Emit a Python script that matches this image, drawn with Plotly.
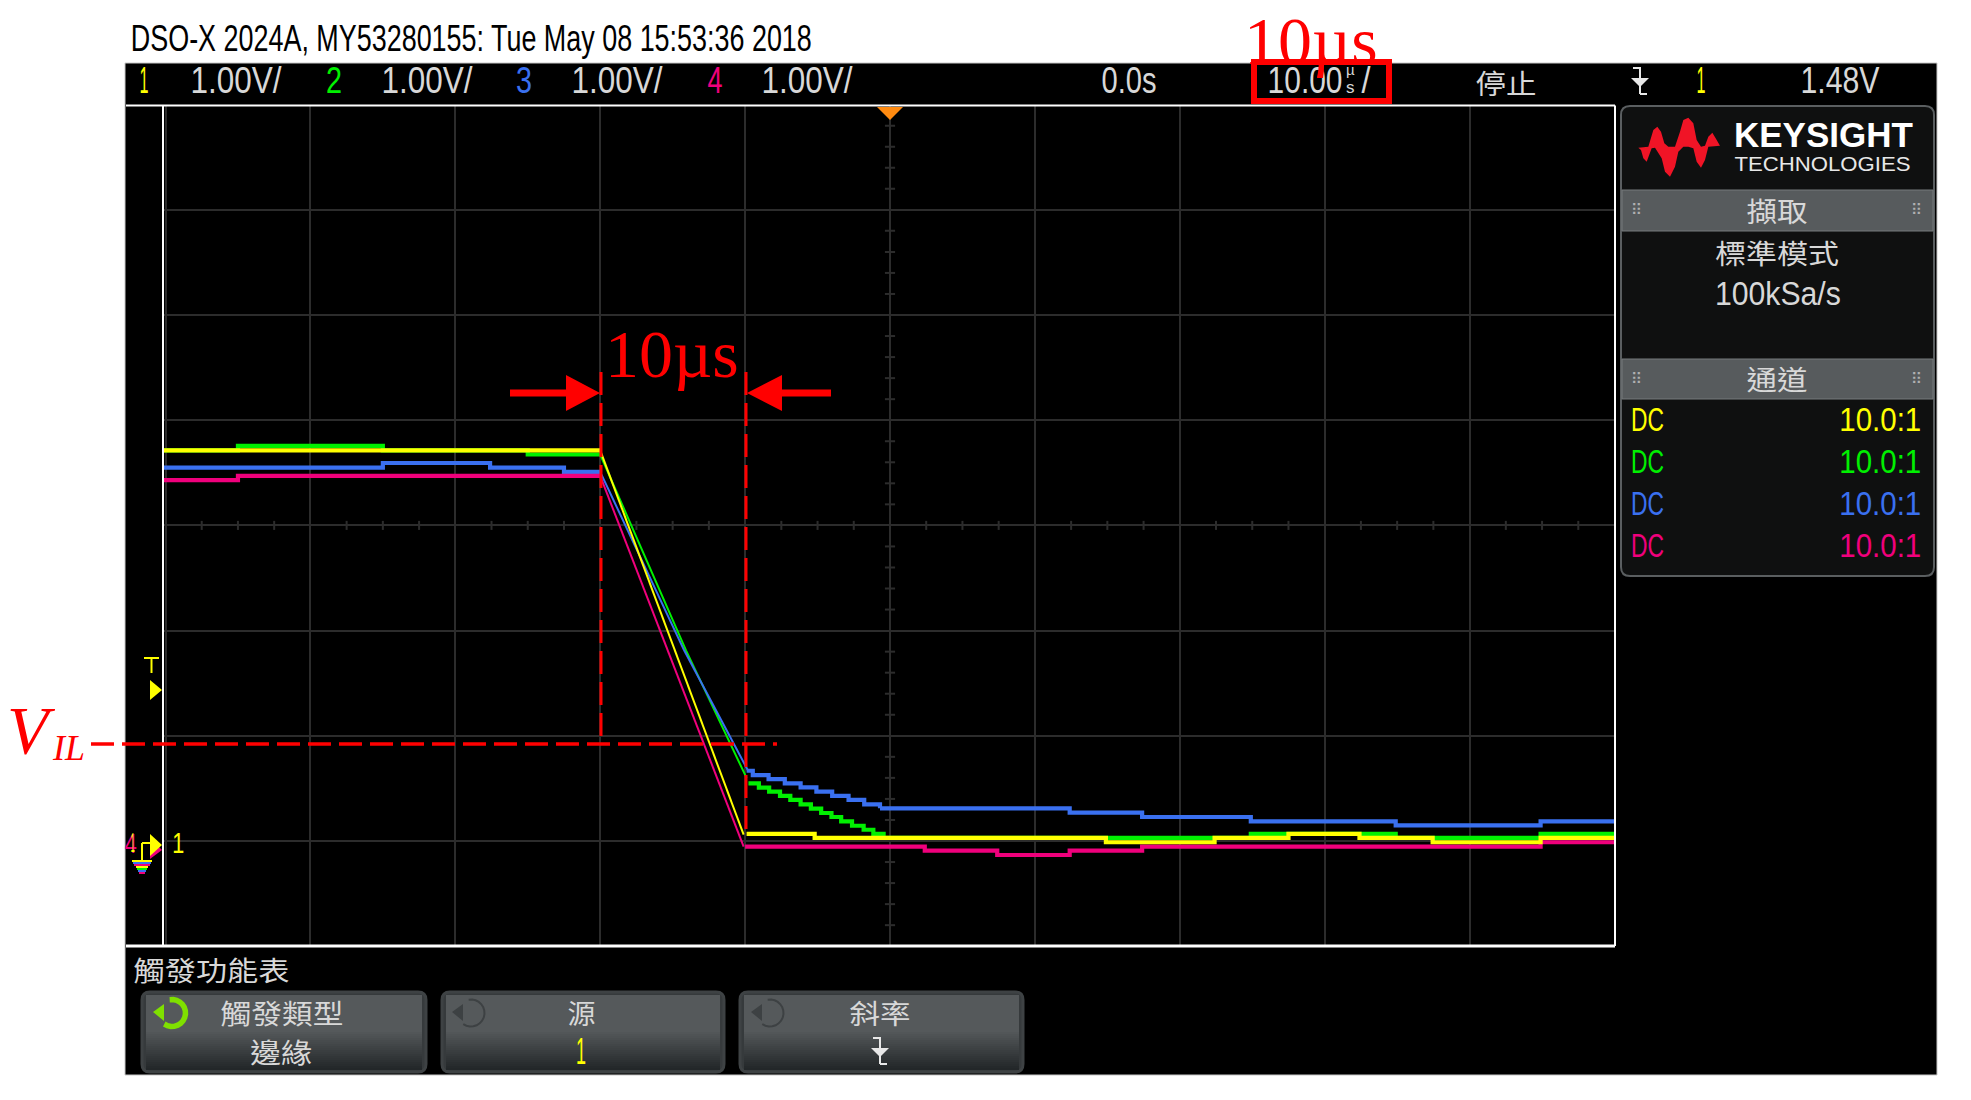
import json
import plotly.graph_objects as go
import numpy as np

W, H = 1971, 1100
PX_DIV_X = 144.9
PX_DIV_Y = 105.2
X0_PX = 890.0
Y0_PX = 841.0
PLOT_L, PLOT_R, PLOT_T, PLOT_B = 163, 1615, 105.6, 946

# ---- waveform data: time in microseconds, level in volts -------------------
ch1_flat_t = [-50.17, -20, None, -9.9, -5.2, -5.2, 14.9, 14.9, 22.4, 22.4, 27.5, 27.5, 32.4, 32.4, 37.45, 37.45, 44.9, 44.9, 50]
ch1_flat_v = [3.714, 3.714, None, 0.067, 0.067, 0.029, 0.029, -0.012, -0.012, 0.029, 0.029, 0.067, 0.067, 0.029, 0.029, -0.012, -0.012, 0.029, 0.029]
ch1_ramp_t = [-20, -10.1]
ch1_ramp_v = [3.714, 0.06]

ch2_flat_t = [-50.17, -45, -45, -35, -35, -25, -25, -20, None, -0.44, 24.9, 24.9, 34.9, 34.9, 44.9, 44.9, 50]
ch2_flat_v = [3.714, 3.714, 3.755, 3.755, 3.714, 3.714, 3.674, 3.674, None, 0.029, 0.029, 0.067, 0.067, 0.029, 0.029, 0.067, 0.067]
ch2_ramp_t = [-20, -14.07, -9.9]
ch2_ramp_v = [3.674, 1.81, 0.6]
ch2_stair_t = [-9.77, -9.05, -8.34, -7.59, -6.88, -6.17, -5.46, -4.75, -4.04, -3.37, -2.62, -1.82, -1.15, -0.44]
ch2_stair_v = [0.548, 0.507, 0.469, 0.428, 0.39, 0.349, 0.307, 0.266, 0.228, 0.187, 0.145, 0.107, 0.067, 0.029]

ch3_flat_t = [-50.17, -35, -35, -27.6, -27.6, -22.5, -22.5, -20, None, -0.69, 12.4, 12.4, 17.4, 17.4, 24.9, 24.9, 34.9, 34.9, 44.9, 44.9, 50]
ch3_flat_v = [3.55, 3.55, 3.593, 3.593, 3.55, 3.55, 3.509, 3.509, None, 0.311, 0.311, 0.269, 0.269, 0.228, 0.228, 0.187, 0.187, 0.149, 0.149, 0.187, 0.187]
ch3_ramp_t = [-20, -14.2, -9.8]
ch3_ramp_v = [3.509, 1.81, 0.67]
ch3_stair_t = [-9.9, -9.47, -8.38, -7.26, -6.17, -5.08, -3.99, -2.86, -1.78, -0.69]
ch3_stair_v = [0.668, 0.627, 0.589, 0.548, 0.51, 0.469, 0.428, 0.39, 0.349, 0.311]

ch4_flat_t = [-50.17, -45, -45, -20, None, -10, 2.4, 2.4, 7.4, 7.4, 12.4, 12.4, 17.4, 17.4, 44.9, 44.9, 50]
ch4_flat_v = [3.43, 3.43, 3.471, 3.471, None, -0.054, -0.054, -0.092, -0.092, -0.133, -0.133, -0.092, -0.092, -0.054, -0.054, -0.012, -0.012]
ch4_ramp_t = [-20, -10.1]
ch4_ramp_v = [3.471, -0.054]

# ---- screen text ----------------------------------------------------------
TITLE = "DSO-X 2024A, MY53280155: Tue May 08 15:53:36 2018"
SCALE_LABELS = ["1.00V/", "1.00V/", "1.00V/", "1.00V/"]
CHANNEL_NAMES = ["1", "2", "3", "4"]
YELLOW, GREEN, BLUE, PINK = "#ffff00", "#00f000", "#3a70f0", "#f0007c"
CH_COLORS = [YELLOW, GREEN, BLUE, PINK]
RED = "#ff0000"
GRID = "#2c2c2c"
TXT = "#d8d8d8"
SANS = "Liberation Sans, sans-serif"
CJK = "Noto Sans CJK TC"
SERIF = "Liberation Serif, serif"


def xp(px):
    return px / W


def yp(py):
    return 1 - py / H


def rect(x0, y0, x1, y1, fill, line=None, lw=0, layer="below"):
    return dict(type="rect", xref="paper", yref="paper", x0=xp(x0), x1=xp(x1), y0=yp(y0), y1=yp(y1),
                fillcolor=fill, line=dict(color=line or fill, width=lw), layer=layer)


def poly(pts, fill, layer="above"):
    d = "M" + " L".join(f"{xp(a):.5f},{yp(b):.5f}" for a, b in pts) + " Z"
    return dict(type="path", xref="paper", yref="paper", path=d, fillcolor=fill, line=dict(width=0), layer=layer)


def seg(x0, y0, x1, y1, color, width, dash=None, layer="above"):
    ln = dict(color=color, width=width)
    if dash:
        ln["dash"] = dash
    return dict(type="line", xref="paper", yref="paper", x0=xp(x0), x1=xp(x1), y0=yp(y0), y1=yp(y1), line=ln, layer=layer)


ann, fit_widths = [], []


def label(s, x, y, size, color=TXT, font=SANS, anchor="center", w=None):
    ann.append(dict(text=s, xref="paper", yref="paper", x=xp(x), y=yp(y), xanchor=anchor, yanchor="middle",
                    showarrow=False, font=dict(size=size, color=color, family=font)))
    fit_widths.append(w)


def span(s, x0, x1, y, size, color=TXT, font=SANS):
    """Text occupying the horizontal extent x0..x1, as on the instrument's condensed screen font."""
    label(s, (x0 + x1) / 2, y, size, color=color, font=font, w=x1 - x0)


def rounded(x0, y0, x1, y1, r, fill, line, lw, layer="below"):
    X0, X1, Y0, Y1 = xp(x0), xp(x1), yp(y0), yp(y1)
    rx, ry = r / W, r / H
    d = (f"M{X0+rx},{Y0} L{X1-rx},{Y0} Q{X1},{Y0} {X1},{Y0-ry} L{X1},{Y1+ry} Q{X1},{Y1} {X1-rx},{Y1} "
         f"L{X0+rx},{Y1} Q{X0},{Y1} {X0},{Y1+ry} L{X0},{Y0-ry} Q{X0},{Y0} {X0+rx},{Y0} Z")
    return dict(type="path", xref="paper", yref="paper", path=d, fillcolor=fill, line=dict(color=line, width=lw), layer=layer)


shapes = []

# black instrument panel
shapes.append(rect(125, 63, 1937, 1075, "#000000", line="#c8c8c8", lw=1))

# frame of the graticule
shapes.append(seg(126, 105.6, 1615, 105.6, "#ffffff", 2))
shapes.append(seg(126, 946, 1615, 946, "#ffffff", 3))
shapes.append(seg(1615, 105.6, 1615, 946, "#ffffff", 2))
shapes.append(seg(163, 105.6, 163, 946, "#ffffff", 2))

# side panel
shapes.append(rounded(1621, 106, 1934, 576, 9, "#0f1010", "#5a5e60", 2))
shapes.append(rect(1622, 190, 1933, 231, "#575b5d", line="#777b7d", lw=1))
shapes.append(rect(1622, 359, 1933, 399, "#575b5d", line="#777b7d", lw=1))
span("擷取", 1746, 1807, 210, 27, font=CJK)
span("通道", 1746, 1807, 379, 27, font=CJK)
for by in (210, 379):
    for dx in (1636, 1916):
        label("⠿", dx, by, 15, color="#b0b0b0", font="DejaVu Sans")
span("標準模式", 1715, 1839, 253, 27, font=CJK)
span("100kSa/s", 1715, 1841, 293, 34)
for i, ry in enumerate([419, 461, 503, 545]):
    span("DC", 1631, 1664, ry, 34, color=CH_COLORS[i])
    span("10.0:1", 1839, 1921, ry, 34, color=CH_COLORS[i])

# logo outline, in the reference's pixels
LOGO = [(40, 128), (70, 125), (85, 75), (97, 65), (108, 80), (118, 115), (130, 125), (150, 125), (165, 80), (175, 45),
        (190, 38), (205, 55), (215, 105), (228, 125), (240, 122), (250, 95), (262, 83), (272, 100), (285, 122),
        (250, 125), (240, 165), (228, 188), (215, 170), (205, 130), (190, 125), (175, 125), (160, 140), (150, 185),
        (135, 215), (120, 200), (110, 160), (90, 128), (80, 130), (65, 170), (55, 160), (48, 135)]
shapes.append(poly([(1625 + a / 3, 105 + b / 3) for a, b in LOGO], "#f01426"))
label("<b>KEYSIGHT</b>", 1823, 135, 35, color="#ffffff", font=SANS)
span("TECHNOLOGIES", 1734, 1910, 163, 21, color="#e8e8e8")

# title and status line
span(TITLE, 131, 812, 38, 36, color="#000000")
for i, (c0, c1, l0) in enumerate([(139, 148, 190), (326, 342, 381), (516, 532, 571), (707, 722, 761)]):
    span(CHANNEL_NAMES[i], c0, c1, 81, 36, color=CH_COLORS[i])
    span(SCALE_LABELS[i], l0, l0 + 91, 81, 36)
span("0.0s", 1101, 1156, 81, 36)
span("10.00", 1267, 1342, 81, 36)
label("µ", 1350, 70, 15)
label("s", 1350, 88, 17)
span("/", 1361, 1370, 81, 36)
span("停止", 1475, 1536, 82, 27, font=CJK)
span("1", 1696, 1705, 81, 36, color=YELLOW)
span("1.48V", 1800, 1879, 81, 36)


def slope_icon(cx, cy):
    return [seg(cx - 7, cy - 13, cx + 1, cy - 13, "#e8e8e8", 2), seg(cx, cy - 13, cx, cy + 13, "#e8e8e8", 2),
            seg(cx, cy + 13, cx + 7, cy + 13, "#e8e8e8", 2),
            poly([(cx - 9, cy - 3), (cx + 9, cy - 3), (cx, cy + 6)], "#e8e8e8")]


shapes += slope_icon(1640, 81)

# bottom softkeys
span("觸發功能表", 133, 289, 969, 27, font=CJK)
for bx0, bx1 in [(142, 426), (442, 724), (740, 1023)]:
    shapes.append(rounded(bx0, 992, bx1, 1072, 8, "#363a3c", "#3e4244", 3))
    shapes.append(rect(bx0 + 4, 995, bx1 - 4, 1030, "#55595b"))
    for k in range(20):
        yy = 1030 + k * 2
        t = k / 19
        c = (int(85 - 50 * t), int(89 - 50 * t), int(91 - 50 * t))
        shapes.append(rect(bx0 + 4, yy, bx1 - 4, yy + 2, "rgb(%d,%d,%d)" % c))
span("觸發類型", 220, 343, 1012, 27, font=CJK)
span("邊緣", 250, 312, 1051, 27, font=CJK)
span("源", 567, 595, 1012, 27, font=CJK)
span("1", 576, 586, 1051, 36, color=YELLOW)
span("斜率", 849, 910, 1012, 27, font=CJK)
shapes += slope_icon(880, 1051)
for cx, col, lw in [(172, "#7fe000", 5.5), (471, "#3d4143", 2), (770, "#3d4143", 2)]:
    ang = np.radians(np.arange(-100, 140, 15))
    pts = [(cx + 13.5 * np.cos(a), 1013 + 13.5 * np.sin(a)) for a in ang]
    d = "M" + " L".join(f"{xp(a):.5f},{yp(b):.5f}" for a, b in pts)
    shapes.append(dict(type="path", xref="paper", yref="paper", path=d, line=dict(color=col, width=lw), layer="above"))
    shapes.append(poly([(cx - 19, 1012), (cx - 8, 1004), (cx - 8, 1021)], col))

# markers on the graticule
shapes.append(poly([(877, 107), (903, 107), (890, 120)], "#ff8a10"))
shapes.append(seg(144, 658, 159, 658, YELLOW, 2))
shapes.append(seg(151.5, 658, 151.5, 673, YELLOW, 2))
shapes.append(poly([(150, 680), (162, 690), (150, 700)], YELLOW))
shapes.append(poly([(150, 838), (162, 850), (150, 859)], PINK))
shapes.append(poly([(150, 834), (162, 845), (150, 856)], YELLOW))
span("1", 172, 184, 842, 30, color=YELLOW)
span("4", 125, 137, 844, 28, color=PINK)
span("1", 131, 135, 842, 28, color=YELLOW)
shapes.append(seg(122 + 20, 843, 150, 843, YELLOW, 2))
shapes.append(seg(142, 843, 142, 860, YELLOW, 2))
for i, (c, hw) in enumerate([(YELLOW, 10), (BLUE, 9), (PINK, 8), (YELLOW, 6), (GREEN, 5), (BLUE, 4), (PINK, 3)]):
    shapes.append(seg(142 - hw, 861 + i * 2, 142 + hw, 861 + i * 2, c, 2))

# hand-drawn red annotations
DASH = "23px,8px"
shapes.append(seg(601, 372, 601, 744, RED, 3, dash=DASH))
shapes.append(seg(746, 372, 746, 833, RED, 3, dash=DASH))
shapes.append(seg(91, 744, 777, 744, RED, 3.5, dash=DASH))
shapes.append(poly([(510, 389.5), (566, 389.5), (566, 375), (600, 393), (566, 411), (566, 396.5), (510, 396.5)], RED))
shapes.append(poly([(831, 389.5), (782, 389.5), (782, 375), (747, 393), (782, 411), (782, 396.5), (831, 396.5)], RED))
shapes.append(dict(type="rect", xref="paper", yref="paper", x0=xp(1254), x1=xp(1389), y0=yp(62), y1=yp(101),
                   line=dict(color=RED, width=6), layer="above"))
label("10µs", 672, 354, 68, color=RED, font=SERIF)
label("10µs", 1311, 41, 68, color=RED, font=SERIF)
label("<i>V</i>", 31, 730, 68, color=RED, font=SERIF)
label("<i>IL</i>", 68, 748, 36, color=RED, font=SERIF)

fig = go.Figure()

# minor graduations along the central axes
tick_x, tick_y = [], []
for d in range(-5, 5):
    for q in (0.25, 0.5, 0.75):
        tick_x += [(d + q) * 10, (d + q) * 10, None]
        tick_y += [2.957, 3.043, None]
tick_x2, tick_y2 = [], []
for d in range(-1, 7):
    for q in (0.2, 0.4, 0.6, 0.8):
        tick_x2 += [-0.35, 0.35, None]
        tick_y2 += [d + q, d + q, None]
fig.add_trace(go.Scatter(x=tick_x + tick_x2, y=tick_y + tick_y2, mode="lines", line=dict(color=GRID, width=2),
                         hoverinfo="skip", showlegend=False))

series = [
    ("2", ch2_flat_t, ch2_flat_v, ch2_ramp_t, ch2_ramp_v, ch2_stair_t, ch2_stair_v, GREEN),
    ("3", ch3_flat_t, ch3_flat_v, ch3_ramp_t, ch3_ramp_v, ch3_stair_t, ch3_stair_v, BLUE),
    ("4", ch4_flat_t, ch4_flat_v, ch4_ramp_t, ch4_ramp_v, None, None, PINK),
    ("1", ch1_flat_t, ch1_flat_v, ch1_ramp_t, ch1_ramp_v, None, None, YELLOW),
]
for name, ft, fv, rt, rv, st, sv, col in series:
    fig.add_trace(go.Scatter(x=rt, y=rv, mode="lines", line=dict(color=col, width=2), name=name, showlegend=False, hoverinfo="skip"))
    fig.add_trace(go.Scatter(x=ft, y=fv, mode="lines", line=dict(color=col, width=4.2), name=name, showlegend=False, hoverinfo="skip"))
    if st:
        fig.add_trace(go.Scatter(x=st, y=sv, mode="lines", line=dict(color=col, width=4.2, shape="hv"), name=name,
                                 showlegend=False, hoverinfo="skip"))

# gap in the ground line next to the channel marker
shapes.append(dict(type="rect", xref="x", yref="y", x0=-49.9, x1=-48, y0=-0.05, y1=0.05, fillcolor="#000000",
                   line=dict(width=0), layer="below"))

fig.update_layout(
    width=W, height=H, margin=dict(l=0, r=0, t=0, b=0, pad=0), paper_bgcolor="#ffffff", plot_bgcolor="#000000",
    shapes=shapes, annotations=ann, showlegend=False, hovermode=False,
    xaxis=dict(domain=[xp(PLOT_L), xp(PLOT_R)], range=[(PLOT_L - X0_PX) / PX_DIV_X * 10, (PLOT_R - X0_PX) / PX_DIV_X * 10],
               tick0=0, dtick=10, showgrid=True, gridcolor=GRID, gridwidth=2, zeroline=False, showticklabels=False, ticks=""),
    yaxis=dict(domain=[yp(PLOT_B), yp(PLOT_T)], range=[(Y0_PX - PLOT_B) / PX_DIV_Y, (Y0_PX - PLOT_T) / PX_DIV_Y],
               tick0=0, dtick=1, showgrid=True, gridcolor=GRID, gridwidth=2, zeroline=False, showticklabels=False, ticks=""),
)
post = (
    "document.body.style.margin='0';"
    "var w=" + json.dumps(fit_widths) + ";"
    "var t=document.querySelectorAll('.annotation-text');"
    "w.forEach(function(v,i){if(v&&t[i]){t[i].setAttribute('textLength',v);t[i].setAttribute('lengthAdjust','spacingAndGlyphs');}});"
)
fig.write_html("out.html", post_script=post, config=dict(displayModeBar=False))
